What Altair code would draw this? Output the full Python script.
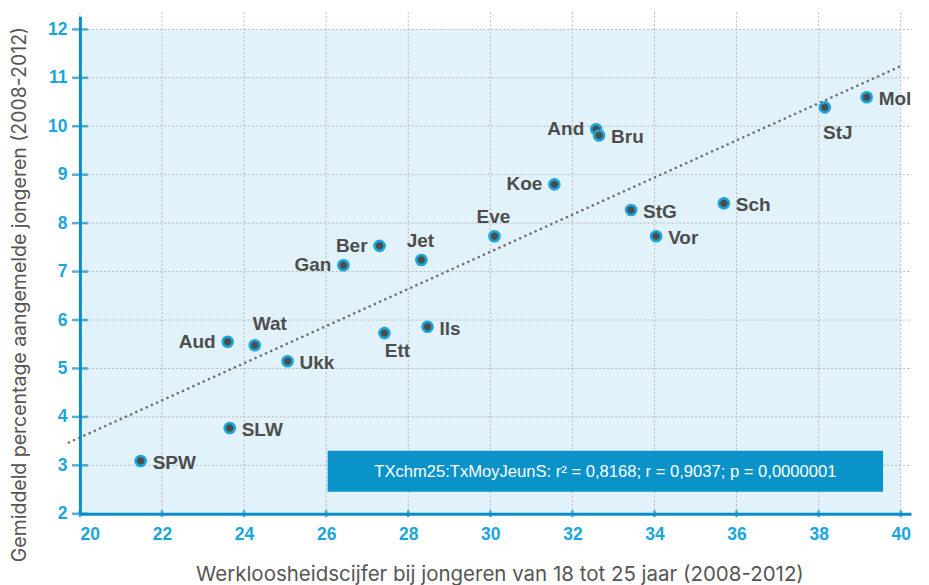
import altair as alt
import pandas as pd

# ---- data ----
NAMES = ["SPW", "SLW", "Aud", "Wat", "Ukk", "Gan", "Ber", "Jet", "Ett", "Ils",
         "Eve", "Koe", "And", "Bru", "StG", "Vor", "Sch", "StJ", "Mol"]
UNEMPLOYMENT = [21.48, 23.65, 23.6, 24.26, 25.06, 26.42, 27.3, 28.32, 27.42, 28.47,
                30.1, 31.56, 32.58, 32.65, 33.43, 34.04, 35.69, 38.15, 39.17]
REGISTERED = [3.09, 3.77, 5.55, 5.48, 5.15, 7.13, 7.53, 7.24, 5.73, 5.86,
              7.73, 8.8, 9.94, 9.81, 8.27, 7.73, 8.41, 10.39, 10.6]
LABEL_SIDE = ["right", "right", "left", "above-right", "right", "left", "left", "above",
              "below-right", "right", "above", "left", "left", "right", "right", "right",
              "right", "below", "right"]
X_TICKS = list(range(20, 41, 2))
Y_TICKS = list(range(2, 13))
X_RANGE = [20, 40]
Y_RANGE = [2, 12]
TREND_EXTENT = [19.73, 40.07]
STATS_TEXT = "TXchm25:TxMoyJeunS: r\u00b2 = 0,8168; r = 0,9037; p = 0,0000001"
X_TITLE = "Werkloosheidscijfer bij jongeren van 18 tot 25 jaar (2008-2012)"
Y_TITLE = "Gemiddeld percentage aangemelde jongeren (2008-2012)"

# ---- styling ----
W, H = 832, 498
FONT = "Liberation Sans"
TITLE_FONT = "Inter"
AXIS_BLUE = "#0b8ec6"
LABEL_BLUE = "#19a6dc"
DARK = "#4d4d4d"

df = pd.DataFrame({"name": NAMES, "x": UNEMPLOYMENT, "y": REGISTERED, "side": LABEL_SIDE})
bg_df = pd.DataFrame({"x": [X_RANGE[0]], "x_end": [X_RANGE[1]], "y": [Y_RANGE[0]], "y_end": [Y_RANGE[1]]})
xt_df = pd.DataFrame({"x": X_TICKS, "y": [Y_RANGE[0]] * len(X_TICKS)})
yt_df = pd.DataFrame({"y": Y_TICKS, "x": [X_RANGE[0]] * len(Y_TICKS)})

xscale = alt.Scale(domain=[20, 40.25], nice=False, zero=False)
yscale = alt.Scale(domain=[2, 12.27], nice=False, zero=False)

xaxis = alt.Axis(values=X_TICKS, ticks=False, grid=False, domainColor=AXIS_BLUE, domainWidth=3,
                 labelColor=LABEL_BLUE, labelFont=FONT, labelFontWeight="bold", labelFontSize=17.5,
                 labelPadding=12, title=X_TITLE, titleFont=TITLE_FONT, titleFontSize=20.5,
                 titleFontWeight="normal", titleColor="#555555", titleX=420, titleY=61,
                 titleBaseline="middle", titleAnchor="middle", zindex=1)
yaxis = alt.Axis(values=Y_TICKS, ticks=False, grid=False, domainColor=AXIS_BLUE, domainWidth=3,
                 labelColor=LABEL_BLUE, labelFont=FONT, labelFontWeight="bold", labelFontSize=17.5,
                 labelPadding=13, title=Y_TITLE, titleFont=TITLE_FONT, titleFontSize=19.5,
                 titleFontWeight="normal", titleColor="#555555", titleX=-60, titleY=278,
                 titleBaseline="middle", titleAngle=-90, titleAnchor="middle", zindex=1)


def X():
    return alt.X("x:Q", scale=xscale, axis=xaxis)


def Y():
    return alt.Y("y:Q", scale=yscale, axis=yaxis)


background = alt.Chart(bg_df).mark_rect(fill="#e1f2fb").encode(
    x=X(), x2="x_end:Q", y=Y(), y2="y_end:Q")

vgrid = alt.Chart(xt_df).mark_rule(color="#b9b9b9", strokeWidth=1, strokeDash=[2, 2]).encode(
    x=X(), y=alt.value(-4), y2=alt.value(H))
hgrid = alt.Chart(yt_df).mark_rule(color="#b9b9b9", strokeWidth=1, strokeDash=[2, 2]).encode(
    y=Y(), x=alt.value(0), x2=alt.value(W))

trend = alt.Chart(df).transform_regression("x", "y", extent=TREND_EXTENT).mark_line(
    color="#707070", strokeWidth=2.6, strokeDash=[0.1, 5.6], strokeCap="round", clip=False
).encode(x=X(), y=Y())

points = alt.Chart(df).mark_circle(size=100, fill=DARK, stroke=LABEL_BLUE, strokeWidth=2.6,
                                   opacity=1).encode(x=X(), y=Y())

OFFSETS = {
    "right": dict(align="left", dx=12, dy=2),
    "left": dict(align="right", dx=-12, dy=0),
    "above": dict(align="center", dx=-1, dy=-19),
    "below": dict(align="center", dx=13, dy=26),
    "above-right": dict(align="center", dx=15, dy=-21),
    "below-right": dict(align="center", dx=13, dy=18),
}
label_layers = []
for side, off in OFFSETS.items():
    label_layers.append(
        alt.Chart(df).transform_filter(alt.datum.side == side).mark_text(
            font=FONT, fontSize=19, fontWeight="bold", color=DARK, baseline="middle", **off
        ).encode(x=X(), y=Y(), text="name:N")
    )

ytick_marks = alt.Chart(yt_df).mark_tick(orient="horizontal", size=16, thickness=2.5,
                                         color=AXIS_BLUE).encode(x=X(), y=Y())
xtick_marks = alt.Chart(xt_df).mark_tick(orient="vertical", size=7, thickness=2.5,
                                         color=AXIS_BLUE).encode(x=X(), y=Y())

stats_df = pd.DataFrame({"t": [STATS_TEXT]})
stats_box = alt.Chart(stats_df).mark_rect(color="#0a93c9").encode(
    x=alt.value(248), x2=alt.value(804), y=alt.value(435), y2=alt.value(476))
stats_text = alt.Chart(stats_df).mark_text(font=FONT, fontSize=16.6, color="white",
                                           align="center", baseline="middle").encode(
    x=alt.value(526), y=alt.value(456), text="t:N")

chart = alt.layer(
    background, vgrid, hgrid, trend, points, *label_layers, stats_box, stats_text,
    ytick_marks, xtick_marks
).properties(
    width=W, height=H,
    padding={"left": 72, "top": 8, "right": 10, "bottom": 85},
    autosize=alt.AutoSizeParams(type="none"),
    background="white",
).configure_view(stroke=None)

chart.save("out.html", embed_options={"renderer": "svg", "actions": False})
